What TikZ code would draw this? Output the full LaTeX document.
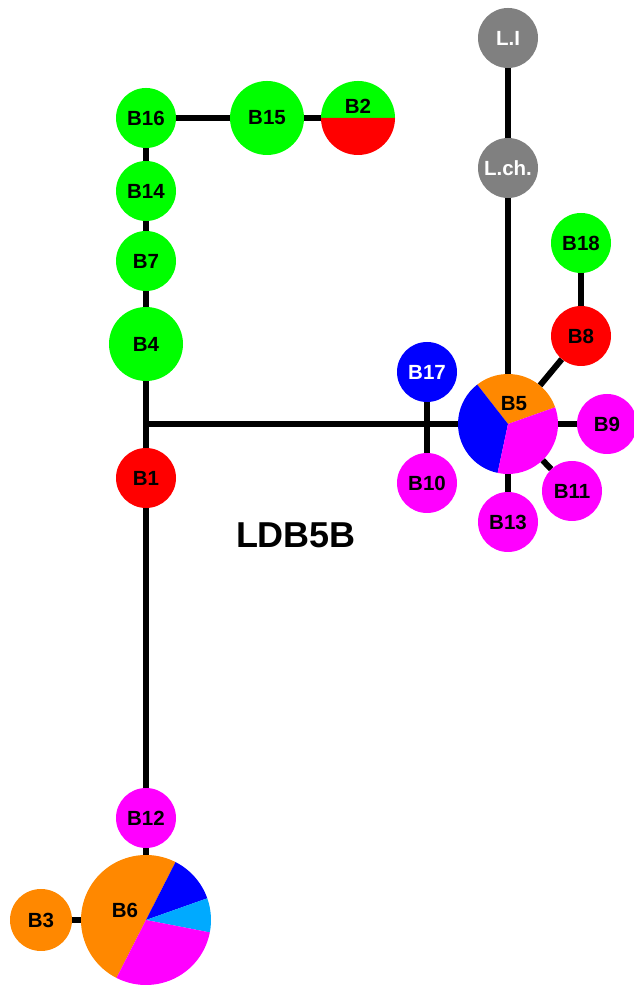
\documentclass[tikz,border=0pt]{standalone}
\usepackage{fontspec}
\setmainfont{Liberation Sans}
\definecolor{cgreen}{HTML}{00FF00}
\definecolor{cred}{HTML}{FF0000}
\definecolor{corange}{HTML}{FF8800}
\definecolor{cmag}{HTML}{FF00FF}
\definecolor{cblue}{HTML}{0000FF}
\definecolor{clblue}{HTML}{00AAFF}
\definecolor{cgray}{HTML}{808080}
\begin{document}
\begin{tikzpicture}[x=1pt,y=1pt,
  hap/.style={circle,inner sep=0pt,minimum size=#1,font=\fontsize{20.5}{24}\selectfont\bfseries},
  hap/.default=60pt,
  lbl/.style={font=\fontsize{20.5}{24}\selectfont\bfseries},
  edge/.style={line width=6pt,black}]
\useasboundingbox (0,0) rectangle (633,990);
% nodes
\node[hap,fill=cgray,text=white] (LI) at (508,952) {L.I};
\node[hap,fill=cgray,text=white] (Lch) at (508,822) {L.ch.};
\node[hap,fill=cgreen] (B18) at (581,747) {B18};
\node[hap,fill=cred] (B8) at (581,654) {B8};
\node[hap=100pt] (B5) at (508,566) {};
\node[hap,fill=cblue,text=white] (B17) at (427,618) {B17};
\node[hap,fill=cmag] (B10) at (427,507) {B10};
\node[hap,fill=cmag] (B9) at (607,566) {B9};
\node[hap,fill=cmag] (B11) at (572,499) {B11};
\node[hap,fill=cmag] (B13) at (508,468) {B13};
\node[hap,fill=cgreen] (B16) at (146,872) {B16};
\node[hap=74pt,fill=cgreen] (B15) at (267,872) {B15};
\node[hap=74pt] (B2) at (358,872) {};
\node[hap,fill=cgreen] (B14) at (146,799) {B14};
\node[hap,fill=cgreen] (B7) at (146,729) {B7};
\node[hap=74pt,fill=cgreen] (B4) at (146,646) {B4};
\node[hap,fill=cred] (B1) at (146,512) {B1};
\node[hap,fill=cmag] (B12) at (146,172) {B12};
\node[hap=130pt] (B6) at (146,70) {};
\node[hap=62pt,fill=corange] (B3) at (41,70) {B3};
\coordinate (J) at (146,566);
% pies
\fill[corange] (B5.center) -- ++(19.5:50pt) arc[start angle=19.5,end angle=128,radius=50pt] -- cycle;
\fill[cblue] (B5.center) -- ++(128:50pt) arc[start angle=128,end angle=258,radius=50pt] -- cycle;
\fill[cmag] (B5.center) -- ++(258:50pt) arc[start angle=258,end angle=379.5,radius=50pt] -- cycle;
\fill[cgreen] (B2.center) -- ++(0:37pt) arc[start angle=0,end angle=180,radius=37pt] -- cycle;
\fill[cred] (B2.center) -- ++(180:37pt) arc[start angle=180,end angle=360,radius=37pt] -- cycle;
\fill[corange] (B6.center) -- ++(63:65pt) arc[start angle=63,end angle=243,radius=65pt] -- cycle;
\fill[cblue] (B6.center) -- ++(19.5:65pt) arc[start angle=19.5,end angle=63,radius=65pt] -- cycle;
\fill[clblue] (B6.center) -- ++(-11:65pt) arc[start angle=-11,end angle=19.5,radius=65pt] -- cycle;
\fill[cmag] (B6.center) -- ++(-117:65pt) arc[start angle=-117,end angle=-11,radius=65pt] -- cycle;
\node[lbl] (B5t) at (514,586) {B5};
\node[lbl] (B2t) at (358,884) {B2};
\node[lbl] (B6t) at (125,80) {B6};
\node[font=\fontsize{36}{40}\selectfont\bfseries] (title) at (296,455) {LDB5B};
% edges
\draw[edge] (LI) -- (Lch);
\draw[edge] (Lch) -- (B5);
\draw[edge] (B18) -- (B8);
\draw[edge] (B8) -- (B5);
\draw[edge] (B5) -- (B9);
\draw[edge] (B5) -- (B11);
\draw[edge] (B5) -- (B13);
\draw[edge] (B17) -- (B10);
\draw[edge] (J) -- (B5);
\draw[edge] (B16) -- (B15);
\draw[edge] (B15) -- (B2);
\draw[edge] (B16) -- (B14);
\draw[edge] (B14) -- (B7);
\draw[edge] (B7) -- (B4);
\draw[edge] (B4) -- (B1);
\draw[edge] (B1) -- (B12);
\draw[edge] (B12) -- (B6);
\draw[edge] (B3) -- (B6);
\end{tikzpicture}
\end{document}
